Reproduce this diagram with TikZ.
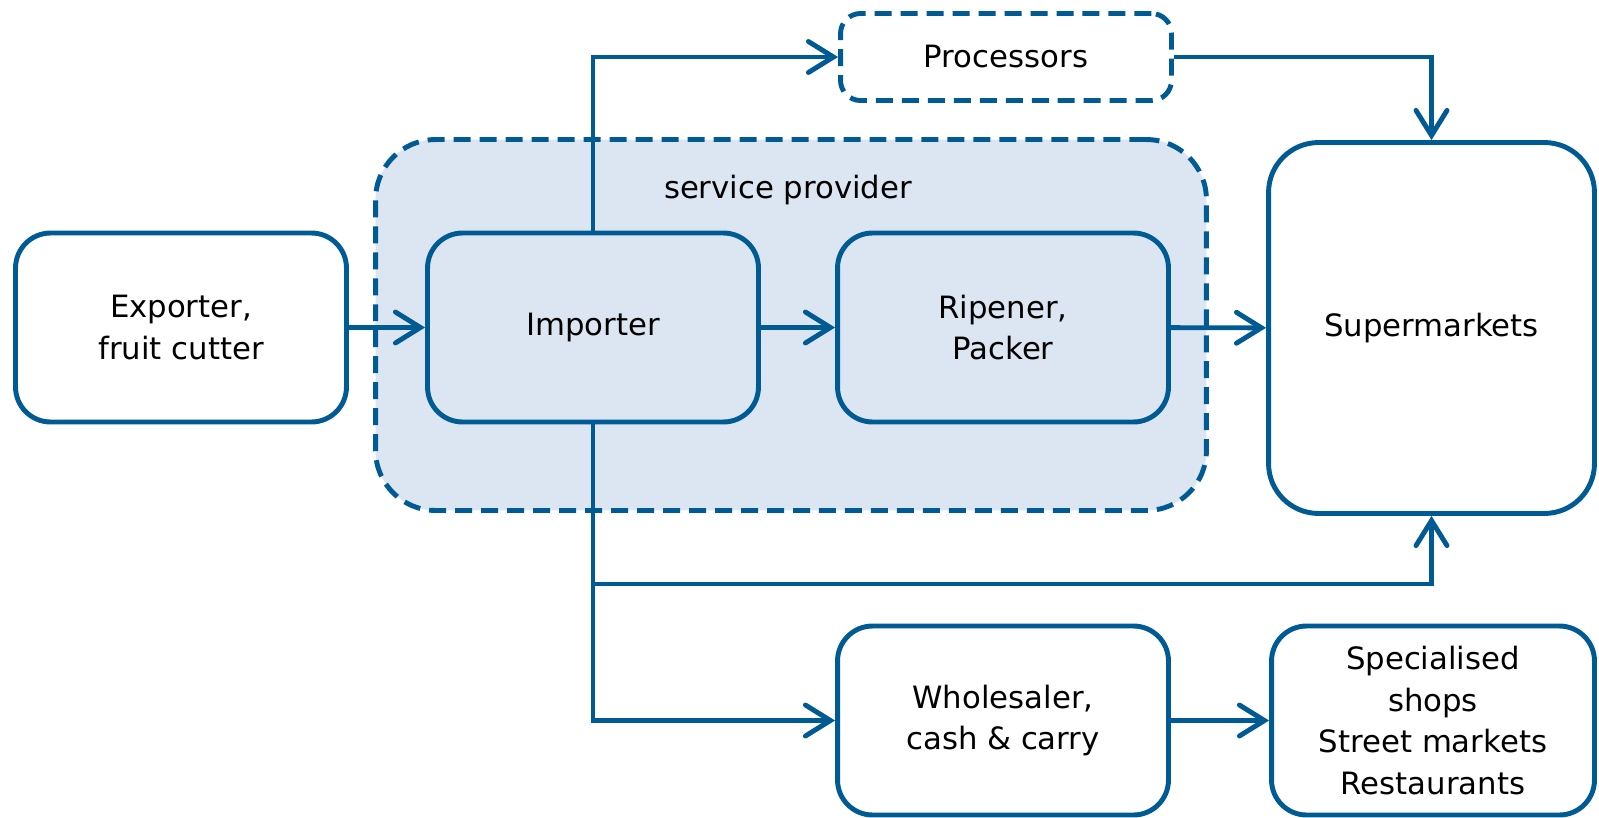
\documentclass[tikz,border=0pt]{standalone}
\usepackage{fontspec}
\setmainfont{DejaVu Sans}
\usepackage{xcolor}
\usepackage{tikz}
\usetikzlibrary{arrows.meta, positioning, calc}

\definecolor{chainblue}{RGB}{0,90,148}
\definecolor{chainfill}{RGB}{220,230,242}

\tikzset{
  box/.style={draw=chainblue, line width=2.8pt, rounded corners=0.7cm, fill=white,
    minimum width=6.62cm, minimum height=3.78cm, align=center,
    font=\fontsize{17.5}{23.8}\selectfont},
  dashbox/.style={box, dashed, dash pattern=on 0.34cm off 0.18cm},
  link/.style={draw=chainblue, line width=2.8pt,
    -{Straight Barb[length=0.5cm, width=0.62cm, line width=2.8pt, line cap=round]}},
}

\begin{document}
\begin{tikzpicture}[x=0.02cm, y=-0.02cm]
		\useasboundingbox (0,0) rectangle (1599,818);
		
		% Service provider area
		\node[dashbox, fill=chainfill, rounded corners=1.2cm, minimum width=16.62cm, minimum height=7.42cm] (service) at (791,325) {};
		\node[font=\fontsize{17.5}{23.8}\selectfont] (servicelabel) at (788,190) {service provider};
		
		% Chain members
		\node[box] (exporter) at (181,327.5) {Exporter,\\fruit cutter};
		\node[box, fill=chainfill] (importer) at (593,327.5) {Importer};
		\node[box, fill=chainfill] (ripener) at (1003,327.5) {Ripener,\\Packer};
		\node[box, rounded corners=1cm, minimum width=6.52cm, minimum height=7.42cm] (supermarkets) at (1431.5,328) {Supermarkets};
		\node[dashbox, rounded corners=0.4cm, minimum height=1.74cm] (processors) at (1006,57) {Processors};
		\node[box] (wholesaler) at (1003,720.5) {Wholesaler,\\cash \& carry};
		\node[box, minimum width=6.46cm] (shops) at (1433,720.5) {Specialised\\shops\\Street markets\\Restaurants};
		
		% Flows
		\draw[link] (exporter) -- (importer);
		\draw[link] (importer) -- (ripener);
		\draw[link] (ripener) -- (supermarkets);
		\draw[link] (importer.north) |- (processors.west);
		\draw[link] (processors.east) -| (supermarkets.north);
		\draw[link] (importer.south) |- (wholesaler.west);
		\coordinate (split) at (importer.south |- 0,584);
		\draw[link] (split) -| (supermarkets.south);
		\draw[link] (wholesaler) -- (shops);
	\end{tikzpicture}
\end{document}
